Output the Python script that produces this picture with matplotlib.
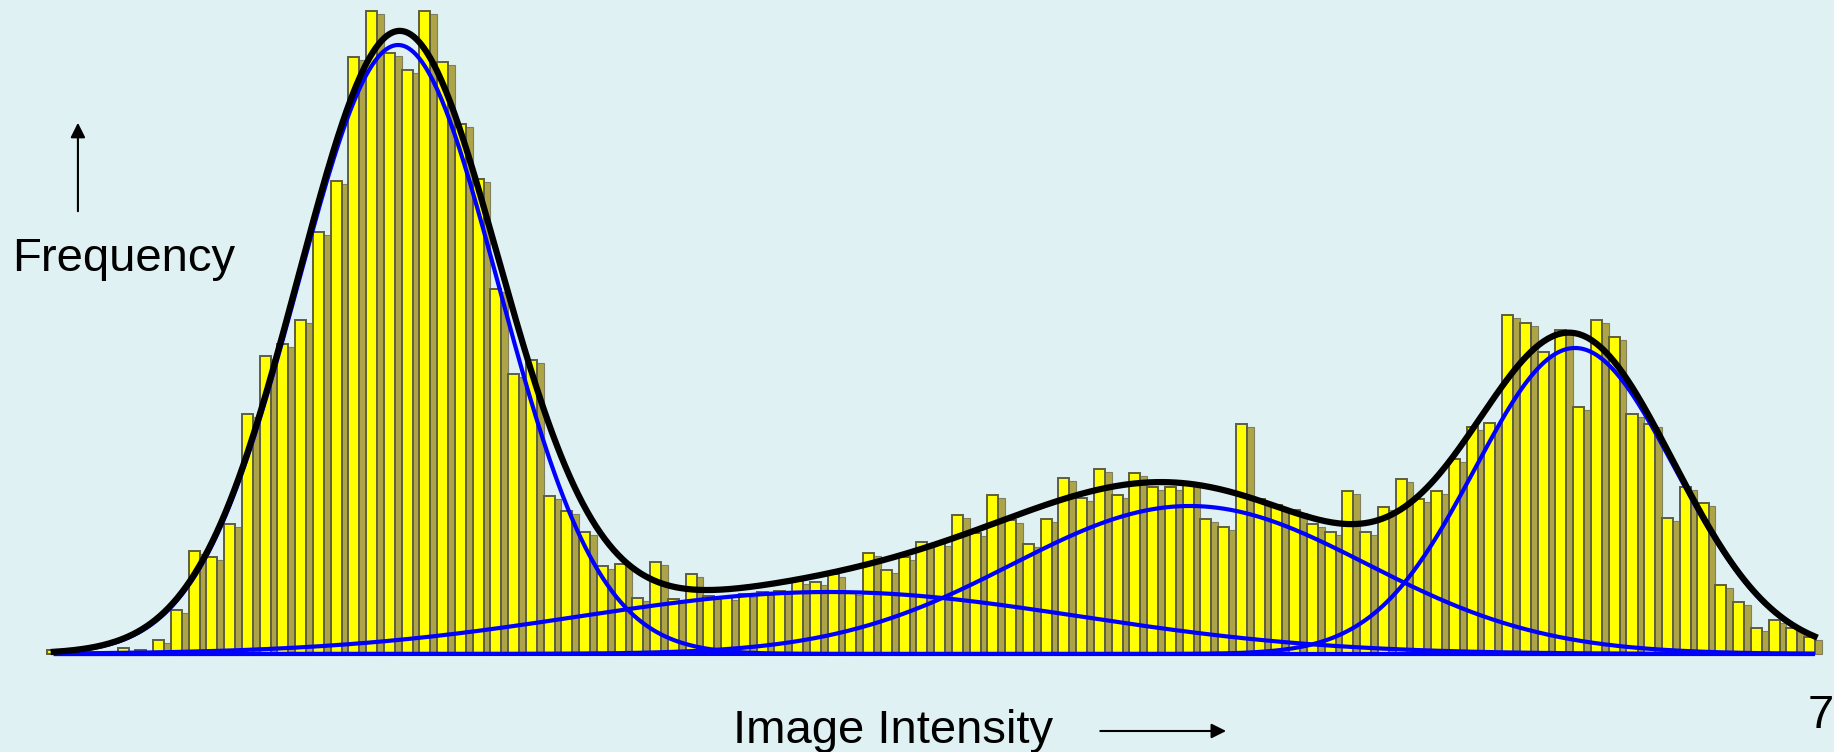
import numpy as np
import matplotlib
matplotlib.use('Agg')
import matplotlib.pyplot as plt

# histogram counts, one per intensity bin (100 bins)
counts = [4, 0, 1, 2, 6, 4, 14, 44, 103, 97,
          130, 240, 298, 310, 334, 422, 473, 597, 643, 601,
          584, 643, 592, 530, 475, 365, 280, 294, 158, 143,
          122, 88, 90, 56, 92, 55, 80, 58, 57, 60,
          62, 63, 73, 72, 80, 62, 101, 84, 97, 112,
          111, 139, 121, 159, 134, 110, 135, 176, 156, 185,
          159, 181, 167, 167, 171, 135, 127, 230, 155, 149,
          144, 130, 122, 163, 122, 147, 175, 155, 163, 195,
          227, 231, 339, 331, 302, 324, 247, 334, 317, 240,
          230, 136, 167, 151, 69, 52, 26, 34, 26, 17]

# fitted mixture components
comp_means = [19.8, 44.1, 64.4, 86.1]
comp_sigmas = [5.65, 14.1, 10.0, 5.63]
comp_peaks = [609, 62, 148, 306]

bg = '#dff1f3'

fig = plt.figure(figsize=(18.34, 7.52), dpi=100, facecolor=bg)
ax = fig.add_axes([0, 0, 1, 1])
ax.set_facecolor(bg)
ax.axis('off')
ax.set_xlim(-2.63, 100.69)
ax.set_ylim(-98, 654)

idx = np.arange(len(counts))
h = np.array(counts, dtype=float)

# bar shadow then bar face
ax.bar(idx + 0.3, np.maximum(h - 3, 0), width=0.7, align='edge',
       color='#aca447', edgecolor='#808060', linewidth=0.8, zorder=1)
ax.bar(idx, h, width=0.62, align='edge', color='#ffff00',
       edgecolor='#5e5e40', linewidth=1.4, zorder=2)

x = np.linspace(0.4, 99.6, 800)
total = np.zeros_like(x)
for m, s, p in zip(comp_means, comp_sigmas, comp_peaks):
    g = p * np.exp(-0.5 * ((x - m) / s) ** 2)
    total += g
    ax.plot(x, g, color='#0000ff', lw=3.0, zorder=3, solid_capstyle='butt')
ax.plot(x, total, color='black', lw=4.5, zorder=4)

ax.text(-1.955, 383, 'Frequency', fontsize=34, family='Liberation Sans',
        ha='left', va='baseline')
ax.annotate('', xy=(1.76, 534), xytext=(1.76, 440),
            arrowprops=dict(arrowstyle='-|>', mutation_scale=22, lw=1.5, color='black'))

ax.text(38.64, -89, 'Image Intensity', fontsize=34, family='Liberation Sans',
        ha='left', va='baseline')
ax.annotate('', xy=(66.6, -77), xytext=(59.2, -77),
            arrowprops=dict(arrowstyle='-|>', mutation_scale=22, lw=1.5, color='black'))

ax.text(99.2, -74, '7', fontsize=34, family='Liberation Sans',
        ha='left', va='baseline')

fig.savefig('out.png', dpi=100, facecolor=bg)
